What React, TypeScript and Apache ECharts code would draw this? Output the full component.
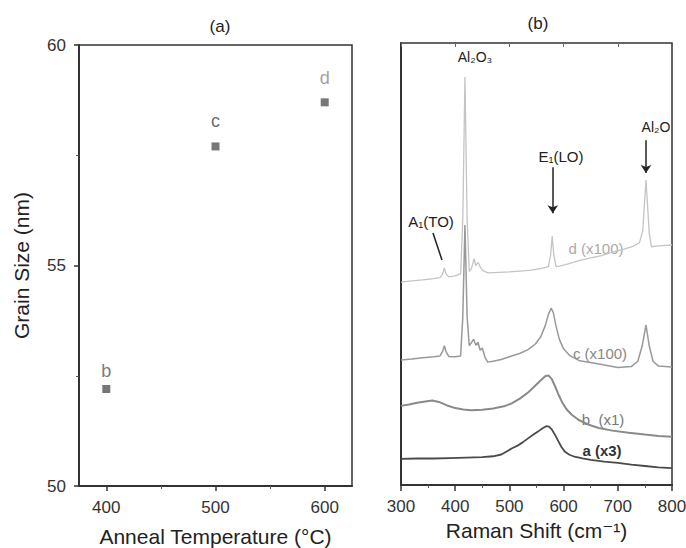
import React, { useEffect, useRef } from "react";
import * as echarts from "echarts";

const FONT = '"Liberation Sans", Arial, "DejaVu Sans", sans-serif';

// Panel (a): grain size vs anneal temperature
const annealTemps = [400, 500, 600];
const grainSizes = [52.2, 57.7, 58.7];
const sampleNames = ["b", "c", "d"];
const tempTicks = [400, 500, 600];
const tempMinorTicks = [450, 550];

// Panel (b): Raman spectra (offset, arbitrary units)
const spectrumA: [number, number][] = [
  [300, 5.9], [330, 6.0], [360, 6.0], [390, 6.1], [420, 6.2], [450, 6.3], [470, 6.5],
  [485, 6.9], [495, 7.6], [505, 8.3], [515, 8.9], [525, 9.7], [535, 10.6], [545, 11.5],
  [555, 12.3], [562, 12.9], [568, 13.3], [573, 13.2], [578, 12.6], [584, 11.4],
  [590, 10.0], [596, 8.6], [602, 7.6], [610, 6.9], [620, 6.4], [635, 6.0], [650, 5.7],
  [675, 5.3], [700, 5.0], [725, 4.6], [750, 4.3], [775, 4.0], [800, 3.8],
];
const spectrumB: [number, number][] = [
  [300, 17.9], [315, 18.2], [330, 18.6], [345, 18.9], [358, 19.1], [370, 18.8],
  [385, 18.0], [400, 17.4], [415, 17.1], [430, 16.9], [450, 17.0], [470, 17.3],
  [490, 17.8], [505, 18.5], [520, 19.6], [535, 21.0], [548, 22.5], [558, 23.7],
  [566, 24.6], [572, 24.8], [578, 24.0], [584, 22.4], [590, 20.6], [597, 18.8],
  [605, 17.2], [615, 15.9], [628, 14.7], [645, 13.7], [665, 12.9], [690, 12.3],
  [720, 11.8], [750, 11.4], [775, 11.1], [800, 10.9],
];
const spectrumC: [number, number][] = [
  [300, 28.3], [320, 28.5], [340, 28.8], [360, 29.0], [372, 29.2], [377, 30.3],
  [380, 31.5], [383, 30.2], [388, 29.1], [400, 29.0], [410, 29.2], [414, 38.0],
  [418, 58.8], [422, 38.0], [426, 31.5], [430, 32.2], [434, 33.0], [438, 31.6],
  [442, 32.3], [446, 30.5], [450, 31.0], [455, 28.9], [460, 27.8], [470, 28.0],
  [485, 28.4], [500, 29.0], [520, 29.8], [535, 30.7], [548, 31.9], [558, 33.6],
  [566, 36.0], [572, 38.6], [577, 40.0], [581, 39.0], [586, 36.0], [592, 33.0],
  [600, 30.8], [612, 29.2], [630, 28.1], [660, 27.5], [700, 26.6], [725, 26.8],
  [737, 28.0], [745, 31.5], [752, 36.2], [758, 31.5], [765, 28.0], [775, 26.9],
  [800, 26.7],
];
const spectrumD: [number, number][] = [
  [300, 45.9], [320, 46.2], [340, 46.4], [360, 46.7], [372, 46.9], [377, 47.8],
  [380, 49.1], [383, 47.8], [388, 47.1], [400, 47.3], [410, 47.8], [414, 60.0],
  [418, 92.3], [422, 60.0], [426, 48.3], [430, 49.0], [435, 51.2], [438, 49.6],
  [442, 50.4], [446, 49.4], [450, 48.6], [460, 48.0], [480, 48.1], [500, 48.2],
  [520, 48.4], [540, 48.6], [560, 49.0], [572, 49.4], [576, 52.0], [579, 56.3],
  [582, 52.0], [586, 49.4], [595, 49.6], [610, 50.1], [630, 50.8], [650, 51.4],
  [670, 51.9], [690, 52.7], [710, 53.3], [728, 54.0], [740, 54.8], [746, 57.5],
  [752, 69.0], [758, 57.0], [762, 53.9], [775, 54.1], [800, 54.3],
];
// Annotation pointers (data space of panel b)
const arrowE1: [number, number][] = [[580, 71.9], [580, 61.5]];
const arrowAl2O: [number, number][] = [[752, 78.0], [752, 70.6]];
const pointerA1: [number, number][] = [[359, 57.0], [375.6, 50.9]];

const axisLineStyle = { color: "#333", width: 2 };

export default function App() {
  const ref = useRef<HTMLDivElement>(null);
  useEffect(() => {
    if (!ref.current) return;
    const chart = echarts.init(ref.current, null, { renderer: "svg" });
    const labelColors = ["#555", "#444", "#888"];
    const labelDist = [5, 12, 11];
    const txt = (text: string, x: number, y: number, size: number, fill: string, weight = "normal") => ({
      type: "text",
      x,
      y,
      silent: true,
      style: {
        text,
        fill,
        fontSize: size,
        fontFamily: FONT,
        fontWeight: weight,
        align: "center",
        verticalAlign: "middle",
        textAlign: "center",
        textVerticalAlign: "middle",
      },
    });
    const lineSeries = (name: string, data: [number, number][], color: string, width: number, extra: any = {}) => ({
      name,
      type: "line",
      xAxisIndex: 2,
      yAxisIndex: 1,
      data,
      symbol: "none",
      showSymbol: false,
      smooth: false,
      silent: true,
      lineStyle: { color, width },
      ...extra,
    });
    const option: any = {
      animation: false,
      backgroundColor: "#fff",
      textStyle: { fontFamily: FONT },
      grid: [
        { left: 79, top: 45, width: 273, height: 441, outerBoundsMode: "none", containLabel: false, show: true, borderColor: "#333", borderWidth: 1.5, backgroundColor: "transparent" },
        { left: 401, top: 43, width: 271, height: 442, outerBoundsMode: "none", containLabel: false, show: true, borderColor: "#333", borderWidth: 1.5, backgroundColor: "transparent" },
      ],
      xAxis: [
        {
          gridIndex: 0,
          type: "value",
          min: 375,
          max: 625,
          position: "bottom",
          axisLine: { show: true, onZero: false, lineStyle: axisLineStyle },
          axisTick: { show: true, length: 5, customValues: tempTicks, lineStyle: { color: "#333", width: 1.5 } },
          axisLabel: { customValues: tempTicks, fontSize: 17, color: "#333", margin: 13, fontFamily: FONT },
          splitLine: { show: false },
          name: "Anneal Temperature (°C)",
          nameLocation: "middle",
          nameGap: 40,
          nameTextStyle: { fontSize: 21, color: "#222", fontFamily: FONT },
        },
        {
          gridIndex: 0,
          type: "value",
          min: 375,
          max: 625,
          position: "bottom",
          axisLine: { show: false, onZero: false },
          axisTick: { show: true, length: 3, customValues: tempMinorTicks, lineStyle: { color: "#555", width: 1 } },
          axisLabel: { show: false },
          splitLine: { show: false },
        },
        {
          gridIndex: 1,
          type: "value",
          min: 300,
          max: 800,
          interval: 100,
          position: "bottom",
          axisLine: { show: true, onZero: false, lineStyle: axisLineStyle },
          axisTick: { show: true, length: 6, lineStyle: { color: "#333", width: 1.5 } },
          minorTick: { show: true, splitNumber: 2, length: 3, lineStyle: { color: "#555", width: 1 } },
          axisLabel: { fontSize: 17, color: "#333", margin: 13, fontFamily: FONT, showMinLabel: true, showMaxLabel: true },
          splitLine: { show: false },
          name: "Raman Shift (cm⁻¹)",
          nameLocation: "middle",
          nameGap: 35,
          nameTextStyle: { fontSize: 21, color: "#222", fontFamily: FONT },
        },
        {
          gridIndex: 1,
          type: "value",
          min: 300,
          max: 800,
          interval: 100,
          position: "top",
          axisLine: { show: false, onZero: false },
          axisTick: { show: true, inside: true, length: 4, lineStyle: { color: "#666", width: 1 } },
          axisLabel: { show: false },
          splitLine: { show: false },
        },
      ],
      yAxis: [
        {
          gridIndex: 0,
          type: "value",
          min: 50,
          max: 60,
          interval: 5,
          axisLine: { show: true, onZero: false, lineStyle: axisLineStyle },
          axisTick: { show: true, length: 5, lineStyle: { color: "#333", width: 1.5 } },
          minorTick: { show: true, splitNumber: 2, length: 3, lineStyle: { color: "#555", width: 1 } },
          axisLabel: { fontSize: 17, color: "#333", margin: 13, fontFamily: FONT },
          splitLine: { show: false },
          name: "Grain Size (nm)",
          nameLocation: "middle",
          nameGap: 47,
          nameTextStyle: { fontSize: 21, color: "#222", fontFamily: FONT },
        },
        {
          gridIndex: 1,
          type: "value",
          min: 0,
          max: 100,
          axisLine: { show: true, onZero: false, lineStyle: axisLineStyle },
          axisTick: { show: false },
          axisLabel: { show: false },
          splitLine: { show: false },
        },
      ],
      series: [
        {
          type: "scatter",
          xAxisIndex: 0,
          yAxisIndex: 0,
          symbol: "rect",
          symbolSize: 8,
          itemStyle: { color: "#555" },
          silent: true,
          data: annealTemps.map((t, i) => ({
            value: [t, grainSizes[i]],
            name: sampleNames[i],
            label: {
              show: true,
              position: "top",
              distance: labelDist[i],
              formatter: sampleNames[i],
              fontSize: 18,
              color: labelColors[i],
              fontFamily: FONT,
            },
          })),
        },
        lineSeries("d", spectrumD, "#c4c4c4", 1.3, {
          markLine: {
            silent: true,
            animation: false,
            symbol: ["none", "arrow"],
            symbolSize: 8,
            label: { show: false },
            emphasis: { disabled: true },
            lineStyle: { color: "#222", width: 1.5, type: "solid" },
            data: [
              [{ coord: arrowE1[0] }, { coord: arrowE1[1] }],
              [{ coord: arrowAl2O[0] }, { coord: arrowAl2O[1] }],
              [{ coord: pointerA1[0], symbol: "none" }, { coord: pointerA1[1], symbol: "none" }],
            ],
          },
        }),
        lineSeries("c", spectrumC, "#999999", 1.5),
        lineSeries("b", spectrumB, "#8a8a8a", 2),
        lineSeries("a", spectrumA, "#4a4a4a", 1.8),
      ],
      graphic: [
        txt("(a)", 220, 26, 17, "#222"),
        txt("(b)", 538, 23, 17, "#222"),
        txt("Al₂O₃", 475, 57, 14, "#222"),
        txt("E₁(LO)", 561, 156, 15, "#222"),
        txt("Al₂O", 656, 127, 14, "#222"),
        txt("A₁(TO)", 431, 221, 15, "#222"),
        txt("d (x100)", 596, 248, 15, "#aaa"),
        txt("c (x100)", 600, 353, 15, "#888"),
        txt("b  (x1)", 603, 419, 15, "#777"),
        txt("a (x3)", 602, 450, 15, "#333", "bold"),
      ],
    };
    chart.setOption(option);
    return () => chart.dispose();
  }, []);
  return <div ref={ref} style={{ position: "fixed", left: 0, top: 0, width: 686, height: 548 }} />;
}
